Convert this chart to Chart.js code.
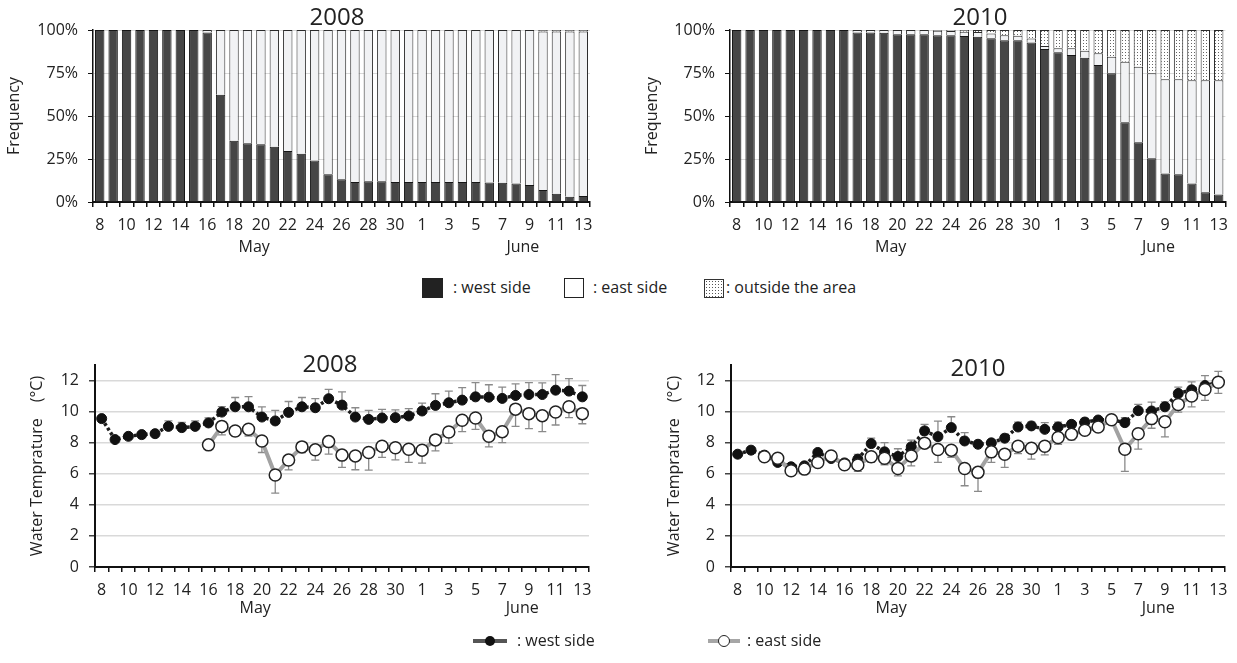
<!DOCTYPE html>
<html>
<head>
<meta charset="utf-8">
<script src="https://cdn.jsdelivr.net/npm/chart.js@4.4.1/dist/chart.umd.min.js"></script>
<style>
  body { margin: 0; background: #fff; font-family: "Open Sans", sans-serif; color: #222; }
  #page { position: relative; width: 1237px; height: 663px; overflow: hidden; }
  canvas { position: absolute; }
  .ttl { position: absolute; width: 120px; text-align: center; font-size: 24px; line-height: 24px; }
  .lg { position: absolute; font-size: 16px; line-height: 20px; white-space: nowrap; }
  .box { position: absolute; box-sizing: border-box; }
  .ln { position: absolute; height: 4px; }
  .dot { position: absolute; box-sizing: border-box; border-radius: 50%; }
</style>
</head>
<body>
<div id="page">
  <canvas id="bar08" width="610" height="262" style="left:0;top:0"></canvas>
  <canvas id="bar10" width="617" height="262" style="left:620px;top:0"></canvas>
  <canvas id="tmp08" width="610" height="290" style="left:0;top:340px"></canvas>
  <canvas id="tmp10" width="617" height="290" style="left:620px;top:340px"></canvas>

  <div class="ttl" style="left:277px;top:4px">2008</div>
  <div class="ttl" style="left:920px;top:4px">2010</div>
  <div class="ttl" style="left:270px;top:351px">2008</div>
  <div class="ttl" style="left:918px;top:355px">2010</div>

  <!-- 凡例: 棒グラフ -->
  <div class="box" style="left:422px;top:278px;width:21px;height:20px;background:#222"></div>
  <div class="lg" style="left:453px;top:277px">: west side</div>
  <div class="box" style="left:564px;top:278px;width:20px;height:20px;border:1.5px solid #222;background:#fff"></div>
  <div class="lg" style="left:593px;top:277px">: east side</div>
  <div class="box" style="left:704px;top:279px;width:20px;height:19px;border:1.5px solid #333;background-color:#fff;background-image:radial-gradient(#555 0.7px, transparent 0.9px);background-size:3px 3px"></div>
  <div class="lg" style="left:726px;top:277px">: outside the area</div>

  <!-- 凡例: 水温 -->
  <div class="ln" style="left:473px;top:639px;width:34px;background:#555"></div>
  <div class="dot" style="left:485px;top:636px;width:10px;height:10px;background:#111"></div>
  <div class="lg" style="left:517px;top:630px">: west side</div>
  <div class="ln" style="left:708px;top:639px;width:32px;background:#a6a6a6"></div>
  <div class="dot" style="left:718px;top:635px;width:12px;height:12px;background:#fff;border:1.5px solid #222"></div>
  <div class="lg" style="left:747px;top:630px">: east side</div>
</div>

<script>
/* ── data ── */
const days = ['8', '9', '10', '11', '12', '13', '14', '15', '16', '17', '18', '19', '20', '21', '22', '23',
              '24', '25', '26', '27', '28', '29', '30', '31', '1', '2', '3', '4', '5', '6', '7', '8',
              '9', '10', '11', '12', '13'];
const months = [['May', 11.5], ['June', 31.5]];
const pctTicks = [0, 25, 50, 75, 100];
const tempTicks = [0, 2, 4, 6, 8, 10, 12];

// 2008 frequency (%)
const west08 = [100, 100, 100, 100, 100, 100, 100, 100, 98.5, 62.3, 35.6, 34.2, 33.6, 32.1, 29.6, 28,
                24.2, 16.2, 13.2, 11.6, 12, 12, 11.6, 11.6, 11.6, 11.6, 11.6, 11.6, 11.6, 11.4, 11.2, 10.8,
                9.9, 7, 4.8, 3.1, 3.5];
const east08 = [0, 0, 0, 0, 0, 0, 0, 0, 1.5, 37.7, 64.4, 65.8, 66.4, 67.9, 70.4, 72,
                75.8, 83.8, 86.8, 88.4, 88, 88, 88.4, 88.4, 88.4, 88.4, 88.4, 88.4, 88.4, 88.6, 88.8, 89.2,
                90.1, 92.2, 94.4, 96.1, 95.7];
const out08 = [0, 0, 0, 0, 0, 0, 0, 0, 0, 0, 0, 0, 0, 0, 0, 0,
               0, 0, 0, 0, 0, 0, 0, 0, 0, 0, 0, 0, 0, 0, 0, 0,
               0, 0.8, 0.8, 0.8, 0.8];

// 2010 frequency (%)
const west10 = [100, 100, 100, 100, 100, 100, 100, 100, 100, 98.6, 98.6, 98.4, 97.6, 97.5, 97.5, 96.9,
                96.9, 96.5, 96.1, 95.2, 94, 94, 92.8, 89, 87, 85.5, 83.8, 79.7, 74.9, 46.4, 34.8, 25.5,
                16.6, 16.2, 10.8, 5.6, 4.4];
const east10 = [0, 0, 0, 0, 0, 0, 0, 0, 0, 1.4, 1.4, 1.6, 2.4, 2.5, 2.5, 2.6,
                2.5, 2.5, 2.7, 2.8, 3, 2.6, 2.2, 1.7, 2.4, 3.9, 4.2, 6.8, 9.6, 35.2, 43.9, 49.3,
                54.8, 55.2, 60, 65.2, 66.4];
const out10 = [0, 0, 0, 0, 0, 0, 0, 0, 0, 0, 0, 0, 0, 0, 0, 0.5,
               0.6, 1, 1.2, 2, 3, 3.4, 5, 9.3, 10.6, 10.6, 12, 13.5, 15.5, 18.4, 21.3, 25.2,
               28.6, 28.6, 29.2, 29.2, 29.2];

// water temperature (°C) and one-sided error
const westT08 = [9.55, 8.2, 8.41, 8.52, 8.58, 9.05, 8.97, 9.05, 9.27, 9.97, 10.31, 10.31, 9.65, 9.4, 9.95, 10.31,
                 10.25, 10.83, 10.42, 9.65, 9.5, 9.59, 9.61, 9.72, 10.04, 10.4, 10.57, 10.74, 10.95, 10.93, 10.85, 11.04,
                 11.1, 11.1, 11.38, 11.32, 10.95];
const westE08 = [0, 0.1, 0.15, 0.15, 0.15, 0.35, 0.33, 0.35, 0.33, 0.35, 0.6, 0.65, 0.65, 0.68, 0.7, 0.6,
                 0.58, 0.6, 0.85, 0.6, 0.58, 0.55, 0.5, 0.47, 0.5, 0.75, 0.75, 0.8, 0.92, 0.8, 0.72, 0.75,
                 0.77, 0.75, 1.0, 0.8, 0.73];
const eastT08 = [null, null, null, null, null, null, null, null, 7.86, 9.05, 8.75, 8.86, 8.11, 5.92, 6.88, 7.73,
                 7.54, 8.07, 7.2, 7.15, 7.37, 7.77, 7.67, 7.58, 7.52, 8.18, 8.69, 9.44, 9.59, 8.41, 8.71, 10.16,
                 9.87, 9.74, 9.97, 10.31, 9.87];
const eastE08 = [null, null, null, null, null, null, null, null, 0, 0.55, 0.32, 0.43, 0.74, 1.16, 0.63, 0.36,
                 0.66, 0.81, 0.79, 0.89, 1.13, 0.72, 0.77, 0.85, 0.84, 0.71, 0.73, 0.73, 0.73, 0.68, 0.71, 1.11,
                 0.97, 1.03, 0.83, 0.7, 0.65];

const westT10 = [7.26, 7.52, 7.2, 6.73, 6.45, 6.51, 7.37, 6.98, 6.7, 6.94, 7.94, 7.41, 7.11, 7.73, 8.76, 8.39,
                 8.97, 8.11, 7.9, 7.99, 8.29, 9.01, 9.08, 8.86, 9.01, 9.18, 9.33, 9.46, 9.48, 9.29, 10.06, 10.04,
                 10.31, 11.17, 11.4, 11.68, 11.89];
const westE10 = [0, 0.1, 0.1, 0.1, 0.1, 0.15, 0.15, 0.1, 0.15, 0.3, 0.35, 0.6, 0.5, 0.43, 0.42, 1.0,
                 0.7, 0.54, 0.2, 0.17, 0.25, 0.32, 0.25, 0.43, 0.32, 0.22, 0.24, 0.2, 0.3, 0.32, 0.4, 0.57,
                 0.32, 0.4, 0.51, 0.64, 0.7];
const eastT10 = [null, null, 7.1, 7.0, 6.19, 6.3, 6.73, 7.15, 6.58, 6.56, 7.09, 7.0, 6.34, 7.15, 7.97, 7.56,
                 7.52, 6.34, 6.09, 7.41, 7.26, 7.77, 7.64, 7.77, 8.33, 8.54, 8.8, 9.01, 9.48, 7.58, 8.58, 9.55,
                 9.35, 10.46, 11.0, 11.42, 11.89];
const eastE10 = [null, null, 0.1, 0.1, 0.15, 0.1, 0.1, 0.1, 0.1, 0.4, 0.36, 0.42, 0.47, 0.64, 0.28, 0.83,
                 0.47, 1.11, 1.22, 0.68, 0.85, 0.47, 0.7, 0.55, 0.43, 0.36, 0.26, 0.26, 0.19, 1.43, 1.0, 0.62,
                 0.98, 0.49, 0.69, 0.7, 0.72];

/* ── common ── */
Chart.defaults.font.family = '"Open Sans", sans-serif';
Chart.defaults.color = '#222';
const tickFont = { size: 16 };

// 点描パターン (outside the area)
function dotPattern() {
    const c = document.createElement('canvas');
    c.width = 3; c.height = 3;
    const g = c.getContext('2d');
    g.fillStyle = '#fff'; g.fillRect(0, 0, 3, 3);
    g.fillStyle = '#666'; g.fillRect(1, 1, 1, 1);
    return g.createPattern(c, 'repeat');
}

// 月ラベル (May / June) をカテゴリ軸の位置に描く
const monthLabels = {
    id: 'monthLabels',
    afterDraw(chart, args, opts) {
        const { ctx, scales: { x } } = chart;
        ctx.save();
        ctx.font = '16px "Open Sans", sans-serif';
        ctx.fillStyle = '#222';
        ctx.textAlign = 'center';
        ctx.textBaseline = 'middle';
        months.forEach(([txt, at]) => ctx.fillText(txt, x.getPixelForValue(at), x.top + opts.dy));
        ctx.restore();
    },
};

// 片側エラーバー
const errorBars = {
    id: 'errorBars',
    beforeDatasetsDraw(chart) {
        const { ctx, scales: { x, y } } = chart;
        ctx.save();
        ctx.strokeStyle = '#8a8a8a';
        ctx.lineWidth = 1.3;
        chart.data.datasets.forEach(ds => {
            if (!ds.err) return;
            ds.data.forEach((v, i) => {
                const e = ds.err[i];
                if (v == null || !e) return;
                const px = x.getPixelForValue(i);
                const y0 = y.getPixelForValue(v);
                const y1 = y.getPixelForValue(v + ds.errDir * e);
                ctx.beginPath();
                ctx.moveTo(px, y0); ctx.lineTo(px, y1);
                ctx.moveTo(px - 4, y1); ctx.lineTo(px + 4, y1);
                ctx.stroke();
            });
        });
        ctx.restore();
    },
};

function xAxis(h) {
    return {
        grid: { drawOnChartArea: false, offset: true, tickLength: 5, color: '#111', lineWidth: 1.5 },
        border: { color: '#111', width: 2 },
        ticks: {
            autoSkip: false, maxRotation: 0, padding: 9, font: tickFont,
            callback: (v, i) => (i % 2 === 0 ? days[i] : ''),
        },
        afterFit: s => { s.height = h; },
    };
}

function barChart(id, west, east, out, yw, padRight, titlePad) {
    const x = xAxis(60);
    x.stacked = true;
    return new Chart(document.getElementById(id), {
        type: 'bar',
        data: {
            labels: days,
            datasets: [
                { data: west, backgroundColor: '#464646', borderColor: '#161616', borderWidth: 1 },
                { data: east, backgroundColor: '#f1f2f4', borderColor: '#2a2a2a', borderWidth: 1 },
                { data: out, backgroundColor: dotPattern(), borderColor: '#2a2a2a', borderWidth: 1 },
            ],
        },
        options: {
            responsive: false,
            animation: false,
            layout: { padding: { top: 30, right: padRight, left: 0, bottom: 0 } },
            datasets: { bar: { barPercentage: 0.7, categoryPercentage: 1 } },
            plugins: { legend: { display: false }, tooltip: { enabled: false }, monthLabels: { dy: 45 } },
            scales: {
                x,
                y: {
                    stacked: true, min: 0, max: 100,
                    afterBuildTicks: s => { s.ticks = pctTicks.map(v => ({ value: v })); },
                    ticks: { callback: v => v + '%', padding: 10, font: tickFont },
                    grid: { color: '#d9d9d9', lineWidth: 1, tickColor: '#111', tickLength: 5 },
                    border: { color: '#111', width: 1.5 },
                    title: { display: true, text: 'Frequency', font: tickFont, padding: { top: titlePad, bottom: 0 } },
                    afterFit: s => { s.width = yw; },
                },
            },
        },
        plugins: [monthLabels],
    });
}

function tempChart(id, westT, westE, eastT, eastE, yw, padRight, titlePad) {
    return new Chart(document.getElementById(id), {
        type: 'line',
        data: {
            labels: days,
            datasets: [
                {
                    data: westT, err: westE, errDir: 1, order: 1,
                    borderColor: '#1c1c1c', borderWidth: 3.5, borderDash: [3, 2.5],
                    pointRadius: 5, pointBackgroundColor: '#111', pointBorderColor: '#111', pointBorderWidth: 1,
                },
                {
                    data: eastT, err: eastE, errDir: -1, order: 0,
                    borderColor: '#a2a2a2', borderWidth: 4,
                    pointRadius: 6, pointBackgroundColor: '#fff', pointBorderColor: '#222', pointBorderWidth: 1.5,
                },
            ],
        },
        options: {
            responsive: false,
            animation: false,
            layout: { padding: { top: 25, right: padRight, left: 0, bottom: 0 } },
            elements: { line: { tension: 0 } },
            plugins: { legend: { display: false }, tooltip: { enabled: false }, monthLabels: { dy: 41 } },
            scales: {
                x: Object.assign(xAxis(63), { offset: true }),
                y: {
                    min: 0, max: 13,
                    ticks: { padding: 10, font: tickFont },
                    afterBuildTicks: s => { s.ticks = tempTicks.map(v => ({ value: v })); },
                    grid: { color: '#d9d9d9', lineWidth: 1.5, tickColor: '#444', tickLength: 6 },
                    border: { color: '#111', width: 2 },
                    title: { display: true, text: 'Water Temprature\u3000(°C)', font: tickFont, padding: { top: titlePad, bottom: 0 } },
                    afterFit: s => { s.width = yw; },
                },
            },
        },
        plugins: [errorBars, monthLabels],
    });
}

barChart('bar08', west08, east08, out08, 93, 20, 5);
barChart('bar10', west10, east10, out10, 110, 10, 23);
tempChart('tmp08', westT08, westE08, eastT08, eastE08, 95, 21, 28);
tempChart('tmp10', westT10, westE10, eastT10, eastE10, 111, 12, 45);
</script>
</body>
</html>
